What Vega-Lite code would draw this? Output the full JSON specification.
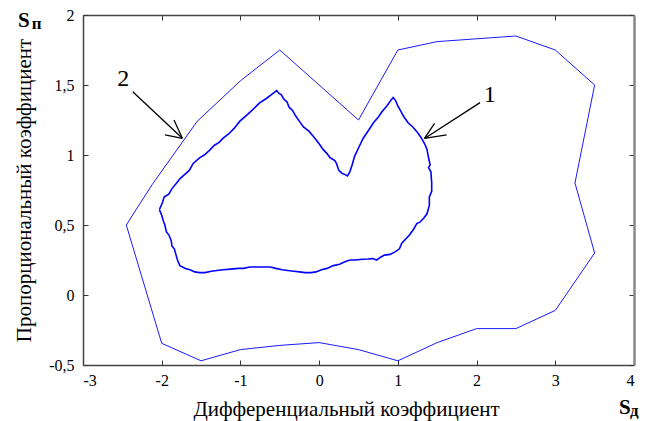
{
  "$schema": "https://vega.github.io/schema/vega-lite/v6.json",
  "autosize": {"type": "none"},
  "padding": {"left": 83, "top": 15, "right": 19, "bottom": 56},
  "width": 551,
  "height": 350,
  "background": "white",
  "config": {
    "view": {"stroke": null},
    "axis": {
      "grid": false,
      "labelFont": "Liberation Serif",
      "labelFontSize": 16,
      "labelColor": "black",
      "titleFont": "Liberation Serif",
      "titleFontSize": 21,
      "titleFontWeight": "normal",
      "titleColor": "black",
      "tickSize": -5,
      "tickColor": "#333",
      "domainColor": "#444",
      "domainWidth": 1.5
    }
  },
  "datasets": {
    "outer": [
      {"i": 0, "x": -2.45, "y": 0.5}, {"i": 1, "x": -2.12, "y": 0.79}, {"i": 2, "x": -1.55, "y": 1.24},
      {"i": 3, "x": -1.0, "y": 1.53}, {"i": 4, "x": -0.5, "y": 1.75}, {"i": 5, "x": 0.5, "y": 1.25},
      {"i": 6, "x": 1.0, "y": 1.75}, {"i": 7, "x": 1.5, "y": 1.81}, {"i": 8, "x": 2.5, "y": 1.85},
      {"i": 9, "x": 3.0, "y": 1.75}, {"i": 10, "x": 3.5, "y": 1.5}, {"i": 11, "x": 3.25, "y": 0.8},
      {"i": 12, "x": 3.5, "y": 0.3}, {"i": 13, "x": 3.0, "y": -0.11}, {"i": 14, "x": 2.5, "y": -0.24},
      {"i": 15, "x": 2.0, "y": -0.24}, {"i": 16, "x": 1.5, "y": -0.34}, {"i": 17, "x": 1.0, "y": -0.47},
      {"i": 18, "x": 0.5, "y": -0.39}, {"i": 19, "x": 0.0, "y": -0.34}, {"i": 20, "x": -0.5, "y": -0.36},
      {"i": 21, "x": -1.0, "y": -0.39}, {"i": 22, "x": -1.5, "y": -0.47}, {"i": 23, "x": -2.0, "y": -0.345},
      {"i": 24, "x": -2.45, "y": 0.5}
    ],
    "inner": [
      {"i": 0, "x": -2.03, "y": 0.61}, {"i": 1, "x": -1.99, "y": 0.66}, {"i": 2, "x": -1.97, "y": 0.70},
      {"i": 3, "x": -1.91, "y": 0.72}, {"i": 4, "x": -1.87, "y": 0.76}, {"i": 5, "x": -1.81, "y": 0.80},
      {"i": 6, "x": -1.77, "y": 0.83}, {"i": 7, "x": -1.71, "y": 0.86}, {"i": 8, "x": -1.65, "y": 0.89},
      {"i": 9, "x": -1.60, "y": 0.94}, {"i": 10, "x": -1.52, "y": 0.98}, {"i": 11, "x": -1.46, "y": 1.00},
      {"i": 12, "x": -1.40, "y": 1.03}, {"i": 13, "x": -1.33, "y": 1.07}, {"i": 14, "x": -1.27, "y": 1.09},
      {"i": 15, "x": -1.22, "y": 1.12}, {"i": 16, "x": -1.15, "y": 1.15}, {"i": 17, "x": -1.08, "y": 1.19},
      {"i": 18, "x": -1.01, "y": 1.24}, {"i": 19, "x": -0.93, "y": 1.28}, {"i": 20, "x": -0.85, "y": 1.32},
      {"i": 21, "x": -0.76, "y": 1.37}, {"i": 22, "x": -0.68, "y": 1.40}, {"i": 23, "x": -0.61, "y": 1.43},
      {"i": 24, "x": -0.54, "y": 1.46}, {"i": 25, "x": -0.51, "y": 1.44}, {"i": 26, "x": -0.48, "y": 1.43},
      {"i": 27, "x": -0.45, "y": 1.40}, {"i": 28, "x": -0.41, "y": 1.38}, {"i": 29, "x": -0.38, "y": 1.34},
      {"i": 30, "x": -0.34, "y": 1.32}, {"i": 31, "x": -0.30, "y": 1.28}, {"i": 32, "x": -0.25, "y": 1.24},
      {"i": 33, "x": -0.20, "y": 1.20}, {"i": 34, "x": -0.13, "y": 1.17}, {"i": 35, "x": -0.07, "y": 1.13},
      {"i": 36, "x": 0.00, "y": 1.08}, {"i": 37, "x": 0.05, "y": 1.04}, {"i": 38, "x": 0.10, "y": 1.01},
      {"i": 39, "x": 0.14, "y": 0.98}, {"i": 40, "x": 0.20, "y": 0.96}, {"i": 41, "x": 0.22, "y": 0.94},
      {"i": 42, "x": 0.25, "y": 0.89}, {"i": 43, "x": 0.29, "y": 0.87}, {"i": 44, "x": 0.33, "y": 0.86},
      {"i": 45, "x": 0.36, "y": 0.85}, {"i": 46, "x": 0.39, "y": 0.88}, {"i": 47, "x": 0.42, "y": 0.93},
      {"i": 48, "x": 0.45, "y": 0.99}, {"i": 49, "x": 0.50, "y": 1.05}, {"i": 50, "x": 0.56, "y": 1.12},
      {"i": 51, "x": 0.62, "y": 1.17}, {"i": 52, "x": 0.69, "y": 1.23}, {"i": 53, "x": 0.75, "y": 1.27},
      {"i": 54, "x": 0.80, "y": 1.31}, {"i": 55, "x": 0.86, "y": 1.35}, {"i": 56, "x": 0.91, "y": 1.39},
      {"i": 57, "x": 0.94, "y": 1.41}, {"i": 58, "x": 0.97, "y": 1.39}, {"i": 59, "x": 1.00, "y": 1.35},
      {"i": 60, "x": 1.04, "y": 1.31}, {"i": 61, "x": 1.08, "y": 1.27}, {"i": 62, "x": 1.13, "y": 1.23},
      {"i": 63, "x": 1.19, "y": 1.20}, {"i": 64, "x": 1.25, "y": 1.16}, {"i": 65, "x": 1.30, "y": 1.12},
      {"i": 66, "x": 1.34, "y": 1.08}, {"i": 67, "x": 1.37, "y": 1.04}, {"i": 68, "x": 1.39, "y": 0.98},
      {"i": 69, "x": 1.41, "y": 0.93}, {"i": 70, "x": 1.39, "y": 0.91}, {"i": 71, "x": 1.42, "y": 0.88},
      {"i": 72, "x": 1.43, "y": 0.80}, {"i": 73, "x": 1.43, "y": 0.74}, {"i": 74, "x": 1.40, "y": 0.70},
      {"i": 75, "x": 1.40, "y": 0.64}, {"i": 76, "x": 1.37, "y": 0.58}, {"i": 77, "x": 1.33, "y": 0.55},
      {"i": 78, "x": 1.28, "y": 0.52}, {"i": 79, "x": 1.24, "y": 0.51}, {"i": 80, "x": 1.20, "y": 0.47},
      {"i": 81, "x": 1.15, "y": 0.43}, {"i": 82, "x": 1.10, "y": 0.40}, {"i": 83, "x": 1.05, "y": 0.37},
      {"i": 84, "x": 1.02, "y": 0.33}, {"i": 85, "x": 0.97, "y": 0.31}, {"i": 86, "x": 0.90, "y": 0.29},
      {"i": 87, "x": 0.83, "y": 0.285}, {"i": 88, "x": 0.78, "y": 0.27}, {"i": 89, "x": 0.73, "y": 0.25},
      {"i": 90, "x": 0.68, "y": 0.26}, {"i": 91, "x": 0.62, "y": 0.257}, {"i": 92, "x": 0.55, "y": 0.255},
      {"i": 93, "x": 0.46, "y": 0.25}, {"i": 94, "x": 0.40, "y": 0.25}, {"i": 95, "x": 0.36, "y": 0.245},
      {"i": 96, "x": 0.32, "y": 0.235}, {"i": 97, "x": 0.26, "y": 0.22}, {"i": 98, "x": 0.18, "y": 0.21},
      {"i": 99, "x": 0.10, "y": 0.19}, {"i": 100, "x": 0.03, "y": 0.18}, {"i": 101, "x": -0.04, "y": 0.165},
      {"i": 102, "x": -0.10, "y": 0.16}, {"i": 103, "x": -0.18, "y": 0.16}, {"i": 104, "x": -0.25, "y": 0.165},
      {"i": 105, "x": -0.32, "y": 0.17}, {"i": 106, "x": -0.40, "y": 0.175}, {"i": 107, "x": -0.47, "y": 0.18},
      {"i": 108, "x": -0.55, "y": 0.19}, {"i": 109, "x": -0.62, "y": 0.20}, {"i": 110, "x": -0.70, "y": 0.20},
      {"i": 111, "x": -0.80, "y": 0.20}, {"i": 112, "x": -0.88, "y": 0.20}, {"i": 113, "x": -0.96, "y": 0.19},
      {"i": 114, "x": -1.03, "y": 0.19}, {"i": 115, "x": -1.12, "y": 0.185}, {"i": 116, "x": -1.22, "y": 0.18},
      {"i": 117, "x": -1.30, "y": 0.175}, {"i": 118, "x": -1.37, "y": 0.17}, {"i": 119, "x": -1.45, "y": 0.16},
      {"i": 120, "x": -1.52, "y": 0.16}, {"i": 121, "x": -1.58, "y": 0.165}, {"i": 122, "x": -1.64, "y": 0.18},
      {"i": 123, "x": -1.70, "y": 0.19}, {"i": 124, "x": -1.77, "y": 0.21}, {"i": 125, "x": -1.80, "y": 0.25},
      {"i": 126, "x": -1.82, "y": 0.29}, {"i": 127, "x": -1.84, "y": 0.33}, {"i": 128, "x": -1.87, "y": 0.35},
      {"i": 129, "x": -1.88, "y": 0.39}, {"i": 130, "x": -1.91, "y": 0.43}, {"i": 131, "x": -1.94, "y": 0.45},
      {"i": 132, "x": -1.96, "y": 0.50}, {"i": 133, "x": -1.98, "y": 0.53}, {"i": 134, "x": -2.00, "y": 0.57},
      {"i": 135, "x": -2.03, "y": 0.61}
    ],
    "arrows": [
      {"x": -2.368, "y": 1.452, "x2": -1.738, "y2": 1.119},
      {"x": -1.958, "y": 1.143, "x2": -1.738, "y2": 1.119},
      {"x": -1.844, "y": 1.25, "x2": -1.738, "y2": 1.119},
      {"x": 2.044, "y": 1.374, "x2": 1.339, "y2": 1.118},
      {"x": 1.466, "y": 1.226, "x2": 1.339, "y2": 1.118},
      {"x": 1.619, "y": 1.143, "x2": 1.339, "y2": 1.118}
    ],
    "curveLabels": [
      {"label": "2", "x": -2.488, "y": 1.541},
      {"label": "1", "x": 2.168, "y": 1.431}
    ],
    "sLabels": [
      {"label": "S", "x": -3.826, "y": 1.912},
      {"label": "S", "x": 3.811, "y": -0.85}
    ],
    "subLabels": [
      {"label": "п", "x": -3.652, "y": 1.898},
      {"label": "д", "x": 3.95, "y": -0.865}
    ]
  },
  "resolve": {"axis": {"x": "independent", "y": "independent"}},
  "layer": [
    {
      "data": {"name": "outer"},
      "mark": {"type": "line", "color": "#1a1aff", "strokeWidth": 1},
      "encoding": {
        "x": {"field": "x", "type": "quantitative",
              "scale": {"domain": [-3, 4], "nice": false, "zero": false},
              "axis": {"orient": "bottom", "values": [-3, -2, -1, 0, 1, 2, 3, 4],
                       "labelFont": "Liberation Serif", "labelFontSize": 16,
                       "labelPadding": 12,
                       "labelExpr": "replace(replace(format(datum.value, '.1~f'), '.', ','), '\u2212', '-')",
                       "title": "Дифференциальный коэффициент",
                       "titleX": 263, "titleY": 50, "titleBaseline": "alphabetic", "titleAlign": "center"}},
        "y": {"field": "y", "type": "quantitative",
              "scale": {"domain": [-0.5, 2], "nice": false, "zero": false},
              "axis": {"orient": "left", "values": [-0.5, 0, 0.5, 1, 1.5, 2],
                       "labelFont": "Liberation Serif", "labelFontSize": 16,
                       "labelPadding": 14,
                       "labelExpr": "replace(replace(format(datum.value, '.1~f'), '.', ','), '\u2212', '-')",
                       "title": "Пропорциональный коэффициент",
                       "titleX": -53, "titleY": 175, "titleAngle": -90, "titleBaseline": "alphabetic", "titleAlign": "center"}},
        "order": {"field": "i", "type": "quantitative"}
      }
    },
    {
      "data": {"name": "inner"},
      "mark": {"type": "line", "color": "#0000ff", "strokeWidth": 1.6},
      "encoding": {
        "x": {"field": "x", "type": "quantitative",
              "scale": {"domain": [-3, 4], "nice": false, "zero": false},
              "axis": {"orient": "top", "values": [-3, -2, -1, 0, 1, 2, 3, 4], "labels": false, "title": null}},
        "y": {"field": "y", "type": "quantitative",
              "scale": {"domain": [-0.5, 2], "nice": false, "zero": false},
              "axis": {"orient": "right", "values": [-0.5, 0, 0.5, 1, 1.5, 2], "labels": false, "title": null,
                       "domainColor": "#888", "domainWidth": 2.5}},
        "order": {"field": "i", "type": "quantitative"}
      }
    },
    {
      "data": {"name": "arrows"},
      "mark": {"type": "rule", "color": "black", "strokeWidth": 1.3},
      "encoding": {
        "x": {"field": "x", "type": "quantitative", "scale": {"domain": [-3, 4], "nice": false, "zero": false}, "axis": null},
        "y": {"field": "y", "type": "quantitative", "scale": {"domain": [-0.5, 2], "nice": false, "zero": false}, "axis": null},
        "x2": {"field": "x2"},
        "y2": {"field": "y2"}
      }
    },
    {
      "data": {"name": "curveLabels"},
      "mark": {"type": "text", "font": "Liberation Serif", "fontSize": 24, "color": "black", "align": "center", "baseline": "middle"},
      "encoding": {
        "x": {"field": "x", "type": "quantitative", "scale": {"domain": [-3, 4], "nice": false, "zero": false}, "axis": null},
        "y": {"field": "y", "type": "quantitative", "scale": {"domain": [-0.5, 2], "nice": false, "zero": false}, "axis": null},
        "text": {"field": "label"}
      }
    },
    {
      "data": {"name": "sLabels"},
      "mark": {"type": "text", "font": "Liberation Serif", "fontSize": 21, "fontWeight": "bold", "color": "black", "align": "left", "baseline": "alphabetic"},
      "encoding": {
        "x": {"field": "x", "type": "quantitative", "scale": {"domain": [-3, 4], "nice": false, "zero": false}, "axis": null},
        "y": {"field": "y", "type": "quantitative", "scale": {"domain": [-0.5, 2], "nice": false, "zero": false}, "axis": null},
        "text": {"field": "label"}
      }
    },
    {
      "data": {"name": "subLabels"},
      "mark": {"type": "text", "font": "Liberation Serif", "fontSize": 17, "fontWeight": "bold", "color": "black", "align": "left", "baseline": "alphabetic"},
      "encoding": {
        "x": {"field": "x", "type": "quantitative", "scale": {"domain": [-3, 4], "nice": false, "zero": false}, "axis": null},
        "y": {"field": "y", "type": "quantitative", "scale": {"domain": [-0.5, 2], "nice": false, "zero": false}, "axis": null},
        "text": {"field": "label"}
      }
    }
  ]
}
